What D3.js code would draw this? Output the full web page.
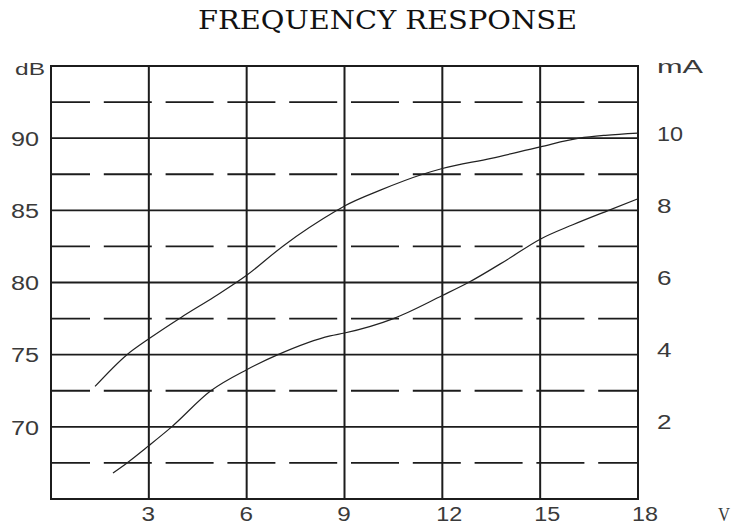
<!DOCTYPE html>
<html>
<head>
<meta charset="utf-8">
<script src="https://cdn.jsdelivr.net/npm/d3@7"></script>
<style>
  html, body { margin: 0; padding: 0; background: #fff; }
  svg { display: block; }
</style>
</head>
<body>
<svg id="chart" width="732" height="529"></svg>
<script>
// ---- data ----
const titleText = "FREQUENCY RESPONSE";
const xTicks = [3, 6, 9, 12, 15, 18];
const dbTicks = [70, 75, 80, 85, 90];
const dbDashed = [67.5, 72.5, 77.5, 82.5, 87.5, 92.5];
const maTicks = [2, 4, 6, 8, 10];
const upperV  = [1.35, 2.33, 3, 4, 5, 6, 7.1, 8.77, 9, 10.1, 11.4, 12, 13.5, 15, 16.2, 17, 18];
const upperDB = [72.8, 75.0, 76.1, 77.6, 79.0, 80.5, 82.5, 85.0, 85.3, 86.4, 87.5, 87.9, 88.6, 89.4, 90.0, 90.2, 90.35];
const lowerV  = [1.9, 2.33, 3, 3.7, 4.9, 6, 6.96, 8.56, 9, 10.5, 12, 12.8, 14, 15, 16, 17.1, 18];
const lowerDB = [66.8, 67.5, 68.7, 70.0, 72.5, 73.96, 75.0, 76.3, 76.5, 77.5, 79.1, 80.0, 81.6, 83.0, 84.0, 85.0, 85.8];

// ---- layout ----
const L = 51, R = 638, T = 66, B = 499;
const svg = d3.select("#chart");
const x = d3.scaleLinear().domain([0, 18]).range([L, R]);
const y = d3.scaleLinear().domain([65, 95]).range([B, T]);
const yR = d3.scaleLinear().domain([0, 12]).range([B, T]);

const ink = "#1c1c1c";
const textCol = "#3a3a3a";

// title
svg.append("text")
  .attr("x", 387.5).attr("y", 29)
  .attr("text-anchor", "middle")
  .attr("font-family", "DejaVu Serif, Liberation Serif, serif")
  .attr("font-size", 26)
  .attr("fill", "#111")
  .attr("textLength", 379).attr("lengthAdjust", "spacingAndGlyphs")
  .text(titleText);

// dashed horizontal grid
svg.append("g").selectAll("line").data(dbDashed).join("line")
  .attr("x1", L).attr("x2", R)
  .attr("y1", d => y(d)).attr("y2", d => y(d))
  .attr("stroke", ink).attr("stroke-width", 1.8)
  .attr("stroke-dasharray", "48,13.8").attr("stroke-dashoffset", 9);

// solid horizontal grid
svg.append("g").selectAll("line").data(dbTicks).join("line")
  .attr("x1", L).attr("x2", R)
  .attr("y1", d => y(d)).attr("y2", d => y(d))
  .attr("stroke", ink).attr("stroke-width", 1.8);

// vertical grid
svg.append("g").selectAll("line").data(xTicks.filter(d => d < 18)).join("line")
  .attr("x1", d => x(d)).attr("x2", d => x(d))
  .attr("y1", T).attr("y2", B)
  .attr("stroke", ink).attr("stroke-width", 2);

// frame
svg.append("rect")
  .attr("x", L).attr("y", T).attr("width", R - L).attr("height", B - T)
  .attr("fill", "none").attr("stroke", ink).attr("stroke-width", 2);

// curves
const line = d3.line().x(d => x(d[0])).y(d => y(d[1])).curve(d3.curveMonotoneX);
const upper = upperV.map((v, i) => [v, upperDB[i]]);
const lower = lowerV.map((v, i) => [v, lowerDB[i]]);
[upper, lower].forEach(pts => {
  svg.append("path").datum(pts)
    .attr("d", line)
    .attr("fill", "none").attr("stroke", "#222").attr("stroke-width", 1.2);
});

// axes (labels only)
const labelFont = "Liberation Sans, Arial, sans-serif";
function styleAxis(g) {
  g.select(".domain").remove();
  g.selectAll(".tick line").remove();
  g.selectAll(".tick text")
    .attr("font-family", labelFont).attr("font-size", 20)
    .attr("fill", textCol)
    .attr("lengthAdjust", "spacingAndGlyphs")
    .attr("textLength", d => String(d).length > 1 ? 28 : 13.5);
}

svg.append("g").attr("transform", `translate(${L},0)`)
  .call(d3.axisLeft(y).tickValues(dbTicks).tickSize(0).tickPadding(12))
  .call(styleAxis)
  .call(g => g.selectAll(".tick text").attr("dy", "0.36em"));

svg.append("g").attr("transform", `translate(${R},0)`)
  .call(d3.axisRight(yR).tickValues(maTicks).tickSize(0).tickPadding(19))
  .call(styleAxis)
  .call(g => g.selectAll(".tick text").attr("dy", "0.1em").attr("textLength", d => String(d).length > 1 ? 26 : 14.5));

svg.append("g").attr("transform", `translate(0,${B})`)
  .call(d3.axisBottom(x).tickValues(xTicks).tickSize(0).tickPadding(0))
  .call(styleAxis)
  .call(g => g.selectAll(".tick text")
    .attr("dy", 0).attr("y", 22)
    .attr("x", d => String(d).length > 1 ? 6.5 : -1)
    .attr("textLength", d => String(d).length > 1 ? 26 : 13.5));

// unit labels
svg.append("text").attr("x", 45).attr("y", 75).attr("text-anchor", "end")
  .attr("font-family", labelFont).attr("font-size", 17).attr("fill", textCol)
  .attr("textLength", 30).attr("lengthAdjust", "spacingAndGlyphs")
  .text("dB");
svg.append("text").attr("x", 657).attr("y", 73)
  .attr("font-family", labelFont).attr("font-size", 18).attr("fill", textCol)
  .attr("textLength", 46).attr("lengthAdjust", "spacingAndGlyphs")
  .text("mA");
svg.append("text").attr("x", 718).attr("y", 521)
  .attr("font-family", "Liberation Serif, DejaVu Serif, serif").attr("font-size", 18).attr("fill", textCol)
  .attr("textLength", 12).attr("lengthAdjust", "spacingAndGlyphs")
  .text("V");
</script>
</body>
</html>
